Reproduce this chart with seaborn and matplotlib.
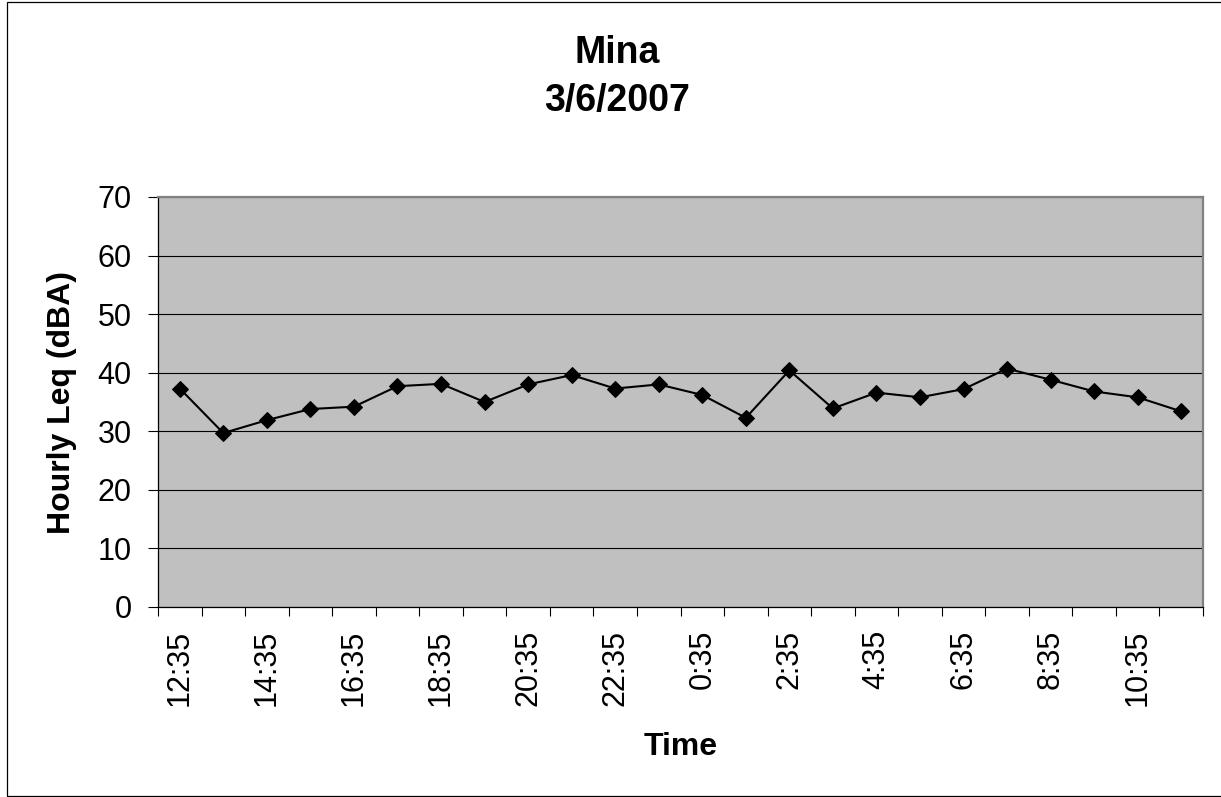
import numpy as np
import pandas as pd
import matplotlib
matplotlib.use("Agg")
import matplotlib.pyplot as plt
from matplotlib.patches import Rectangle
import seaborn as sns

# data
times = ['12:35', '13:35', '14:35', '15:35', '16:35', '17:35', '18:35', '19:35',
         '20:35', '21:35', '22:35', '23:35', '0:35', '1:35', '2:35', '3:35',
         '4:35', '5:35', '6:35', '7:35', '8:35', '9:35', '10:35', '11:35']
leq = [37.3, 29.7, 31.9, 33.8, 34.2, 37.7, 38.1, 35.0, 38.0, 39.6, 37.3, 38.0,
       36.2, 32.3, 40.4, 33.9, 36.6, 35.8, 37.2, 40.7, 38.8, 36.8, 35.8, 33.4]
y_ticks = [0, 10, 20, 30, 40, 50, 60, 70]

df = pd.DataFrame({'Time': times, 'Leq': leq})

sns.set_style("ticks")
plt.rcParams['font.family'] = ['Liberation Sans', 'DejaVu Sans']
plt.rcParams['text.color'] = 'black'
plt.rcParams['axes.labelcolor'] = 'black'
plt.rcParams['xtick.color'] = 'black'
plt.rcParams['ytick.color'] = 'black'

W, H = 1221, 797
fig = plt.figure(figsize=(W / 100, H / 100), dpi=100)
# plot area in pixels: left 158, right 1203, top 197, bottom 607
ax = fig.add_axes([158 / W, 1 - 607 / H, (1203 - 158) / W, (607 - 197) / H])
ax.set_facecolor('#C0C0C0')

sns.lineplot(data=df, x='Time', y='Leq', sort=False, ax=ax, color='black',
             linewidth=1.5, marker='D', markersize=8.5, markeredgecolor='black',
             markerfacecolor='black', zorder=3)

# y axis
ax.set_ylim(0, 70)
ax.set_yticks(y_ticks)
ax.set_yticklabels([str(v) for v in y_ticks])
ax.yaxis.grid(True, color='black', linewidth=0.8, zorder=1)
ax.set_axisbelow(True)
ax.tick_params(axis='y', length=7, width=0.8, color='black', pad=12, labelsize=22)

# x axis: labels every other category, ticks on category boundaries
n = len(times)
ax.set_xlim(-0.5, n - 0.5)
ax.set_xticks(range(0, n, 2))
ax.set_xticklabels(times[::2], rotation=90)
ax.set_xticks(np.arange(-0.5, n, 1), minor=True)
ax.tick_params(axis='x', which='major', length=0, pad=16.5, labelsize=22)
ax.tick_params(axis='x', which='minor', length=6.5, width=0.8, color='black')

for side in ['left', 'bottom']:
    ax.spines[side].set_color('black')
    ax.spines[side].set_linewidth(0.9)
for side in ['top', 'right']:
    ax.spines[side].set_visible(True)
    ax.spines[side].set_color('#808080')
    ax.spines[side].set_linewidth(1.6)

ax.set_xlabel('Time', fontsize=23, fontweight='bold', va='baseline')
ax.xaxis.set_label_coords(0.5, -(755 - 607) / (607 - 197))
ax.set_ylabel('Hourly Leq (dBA)', fontsize=23, fontweight='bold',
              ha='center', va='baseline', rotation=90, rotation_mode='anchor')
ax.yaxis.set_label_coords((70 - 158) / (1203 - 158), 0.5)

# title
fig.text(617 / W, 1 - 63 / H, 'Mina', ha='center', va='baseline',
         fontsize=27, fontweight='bold')
fig.text(617 / W, 1 - 111 / H, '3/6/2007', ha='center', va='baseline',
         fontsize=27, fontweight='bold')

# chart border
fig.patches.append(Rectangle((6.5 / W, 1.5 / H), (W + 20) / W, (H - 3) / H,
                             transform=fig.transFigure, fill=False,
                             edgecolor='black', linewidth=0.9, clip_on=False))

fig.savefig('out.png', dpi=100)
